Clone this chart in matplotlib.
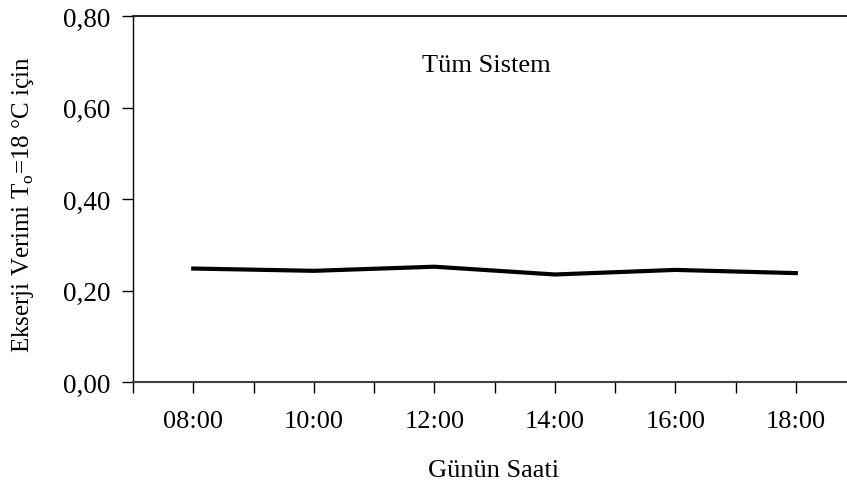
import matplotlib.pyplot as plt

plt.rcParams['font.family'] = ['Liberation Serif', 'DejaVu Serif']
plt.rcParams['mathtext.fontset'] = 'custom'
plt.rcParams['mathtext.rm'] = 'Liberation Serif'

saat = [8, 10, 12, 14, 16, 18]
saat_etiket = ["08:00", "10:00", "12:00", "14:00", "16:00", "18:00"]
verim = [0.248, 0.243, 0.252, 0.235, 0.245, 0.238]

fig = plt.figure(figsize=(8.47, 4.89), dpi=100)
ax = fig.add_axes([133 / 847, 1 - 383 / 489, 1 - 133 / 847, 366 / 489])

ax.plot(saat, verim, color="black", linewidth=3)

ax.set_xlim(7, 18.85)
ax.set_ylim(0, 0.8)
ax.set_xticks(range(7, 19))
ax.set_xticklabels([""] + [saat_etiket[i // 2] if i % 2 == 0 else "" for i in range(11)])
ax.set_yticks([0, 0.2, 0.4, 0.6, 0.8])
ax.set_yticklabels(["0,00", "0,20", "0,40", "0,60", "0,80"])

ax.tick_params(axis="x", direction="out", length=8, width=1, labelsize=19, pad=12)
ax.tick_params(axis="y", direction="out", length=8, width=1, labelsize=19.5, pad=8)

ax.spines["right"].set_visible(False)
ax.spines["bottom"].set_color("#404040")
ax.spines["bottom"].set_linewidth(1.5)
ax.spines["left"].set_linewidth(1)
ax.spines["top"].set_linewidth(1.2)

ax.text(486 / 847, 1 - 66 / 489, "Tüm Sistem", transform=fig.transFigure,
        ha="center", va="center", fontsize=19)
fig.text(23 / 847, 1 - 205 / 489, "Ekserji Verimi T$_{\\mathrm{o}}$=18 °C için",
         rotation=90, ha="center", va="center", fontsize=18)
fig.text(494 / 847, 1 - 471 / 489, "Günün Saati", ha="center", va="center", fontsize=19)

fig.savefig("out.png", dpi=100)
